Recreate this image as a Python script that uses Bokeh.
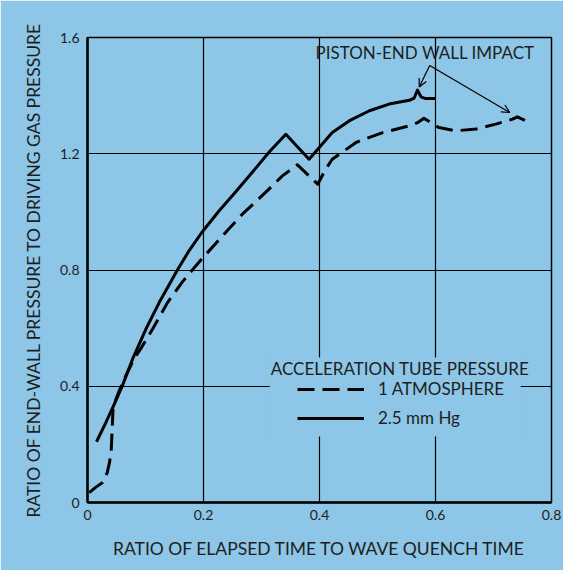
from bokeh.plotting import figure
from bokeh.models import (Range1d, FixedTicker, Legend, LegendItem, Label,
                          BoxAnnotation, Arrow, OpenHead)
from bokeh.embed import file_html
from bokeh.resources import INLINE

# ---- data ----
solid_x = [0.0155, 0.0316, 0.046, 0.060, 0.0776, 0.1005, 0.1236, 0.155, 0.175,
           0.197, 0.227, 0.256, 0.2816, 0.314, 0.342, 0.382, 0.400, 0.422, 0.451,
           0.486, 0.520, 0.555, 0.563, 0.569, 0.575, 0.583, 0.600]
solid_y = [0.209, 0.275, 0.338, 0.401, 0.493, 0.596, 0.688, 0.800, 0.866,
           0.929, 1.004, 1.070, 1.130, 1.208, 1.267, 1.181, 1.222, 1.273, 1.313,
           1.348, 1.371, 1.384, 1.391, 1.419, 1.396, 1.390, 1.390]

dash_x = [0.003, 0.014, 0.026, 0.034, 0.038, 0.041, 0.042, 0.043, 0.044, 0.049,
          0.057, 0.066, 0.080, 0.0948, 0.112, 0.138, 0.164, 0.187, 0.198, 0.233,
          0.267, 0.307, 0.336, 0.362, 0.397, 0.410, 0.422, 0.463, 0.509, 0.555,
          0.569, 0.580, 0.592, 0.606, 0.635, 0.670, 0.704, 0.733, 0.741, 0.756]
dash_y = [0.034, 0.052, 0.069, 0.103, 0.138, 0.183, 0.229, 0.275, 0.321, 0.355,
          0.396, 0.436, 0.493, 0.539, 0.596, 0.688, 0.760, 0.815, 0.840, 0.918,
          0.992, 1.067, 1.124, 1.162, 1.095, 1.145, 1.181, 1.239, 1.273, 1.296,
          1.307, 1.322, 1.307, 1.290, 1.279, 1.285, 1.302, 1.319, 1.327, 1.313]

x_ticks = [0, 0.2, 0.4, 0.6, 0.8]
y_ticks = [0, 0.4, 0.8, 1.2, 1.6]
x_tick_labels = ["0", "0.2", "0.4", "0.6", "0.8"]
y_tick_labels = ["0", "0.4", "0.8", "1.2", "1.6"]

series_names = ["1 ATMOSPHERE", "2.5 mm Hg"]
legend_title = "ACCELERATION TUBE PRESSURE"
impact_text = "PISTON-END WALL IMPACT"
impact_apex = (0.590, 1.504)
impact_targets = [(0.572, 1.430), (0.728, 1.342)]

BG = "#8dc6e6"
INK = "#1e1e1e"
FONT = "Lato"

p = figure(width=563, height=570, output_backend="svg", toolbar_location=None,
           x_range=Range1d(0, 0.8), y_range=Range1d(0, 1.6),
           min_border_left=87, min_border_right=12, min_border_top=37,
           min_border_bottom=68)
p.background_fill_color = BG
p.border_fill_color = BG
p.outline_line_color = "black"
p.outline_line_width = 1.5

for ax, ticks, labels in ((p.xaxis[0], x_ticks, x_tick_labels),
                          (p.yaxis[0], y_ticks, y_tick_labels)):
    ax.ticker = FixedTicker(ticks=ticks)
    ax.major_label_overrides = {t: l for t, l in zip(ticks, labels)}
    ax.major_tick_line_color = None
    ax.minor_tick_line_color = None
    ax.axis_line_color = "black"
    ax.axis_line_width = 2.5
    ax.major_label_text_font = FONT
    ax.major_label_text_font_size = "14px"
    ax.major_label_text_color = INK
    ax.axis_label_text_font = FONT
    ax.axis_label_text_font_size = "17.5px"
    ax.axis_label_text_font_style = "normal"
    ax.axis_label_text_color = INK

p.xaxis.major_label_standoff = 1
p.yaxis.major_label_standoff = 2
p.xaxis.axis_label_standoff = 15
p.yaxis.axis_label_standoff = 13
p.xaxis.axis_label = "RATIO OF ELAPSED TIME TO WAVE QUENCH TIME"
p.yaxis.axis_label = "RATIO OF END-WALL PRESSURE TO DRIVING GAS PRESSURE"

for g in (p.xgrid[0], p.ygrid[0]):
    g.grid_line_color = "black"
    g.grid_line_width = 1.2
    g.grid_line_alpha = 1.0

r_dash = p.line(dash_x, dash_y, line_color="black", line_width=3,
                line_dash="17 8", line_join="round")
r_solid = p.line(solid_x, solid_y, line_color="black", line_width=3,
                 line_join="round")

# legend area covers the grid lines
p.add_layout(BoxAnnotation(left=0.314, right=0.747, bottom=0.227, top=0.499,
                           fill_color=BG, fill_alpha=1.0, line_color=None))

p.add_layout(Label(x=0.316, y=0.461, text=legend_title, text_font=FONT,
                   text_font_size="17px", text_color=INK,
                   text_baseline="middle"))

legend = Legend(items=[LegendItem(label=series_names[0], renderers=[r_dash]),
                       LegendItem(label=series_names[1], renderers=[r_solid])],
                location=(210, 74), padding=0, margin=0, spacing=8,
                glyph_width=67, glyph_height=20, label_height=20,
                label_standoff=14, label_text_font=FONT,
                label_text_font_size="17px", label_text_color=INK,
                background_fill_alpha=0, border_line_color=None)
p.add_layout(legend)

p.add_layout(Label(x=0.393, y=1.548, text=impact_text, text_font=FONT,
                   text_font_size="17px", text_color=INK,
                   text_baseline="middle"))
for tx, ty in impact_targets:
    p.add_layout(Arrow(end=OpenHead(size=8, line_width=1.2, line_color="black"),
                       x_start=impact_apex[0], y_start=impact_apex[1],
                       x_end=tx, y_end=ty, line_width=1.2, line_color="black"))

open("out.html", "w").write(file_html(p, INLINE))
